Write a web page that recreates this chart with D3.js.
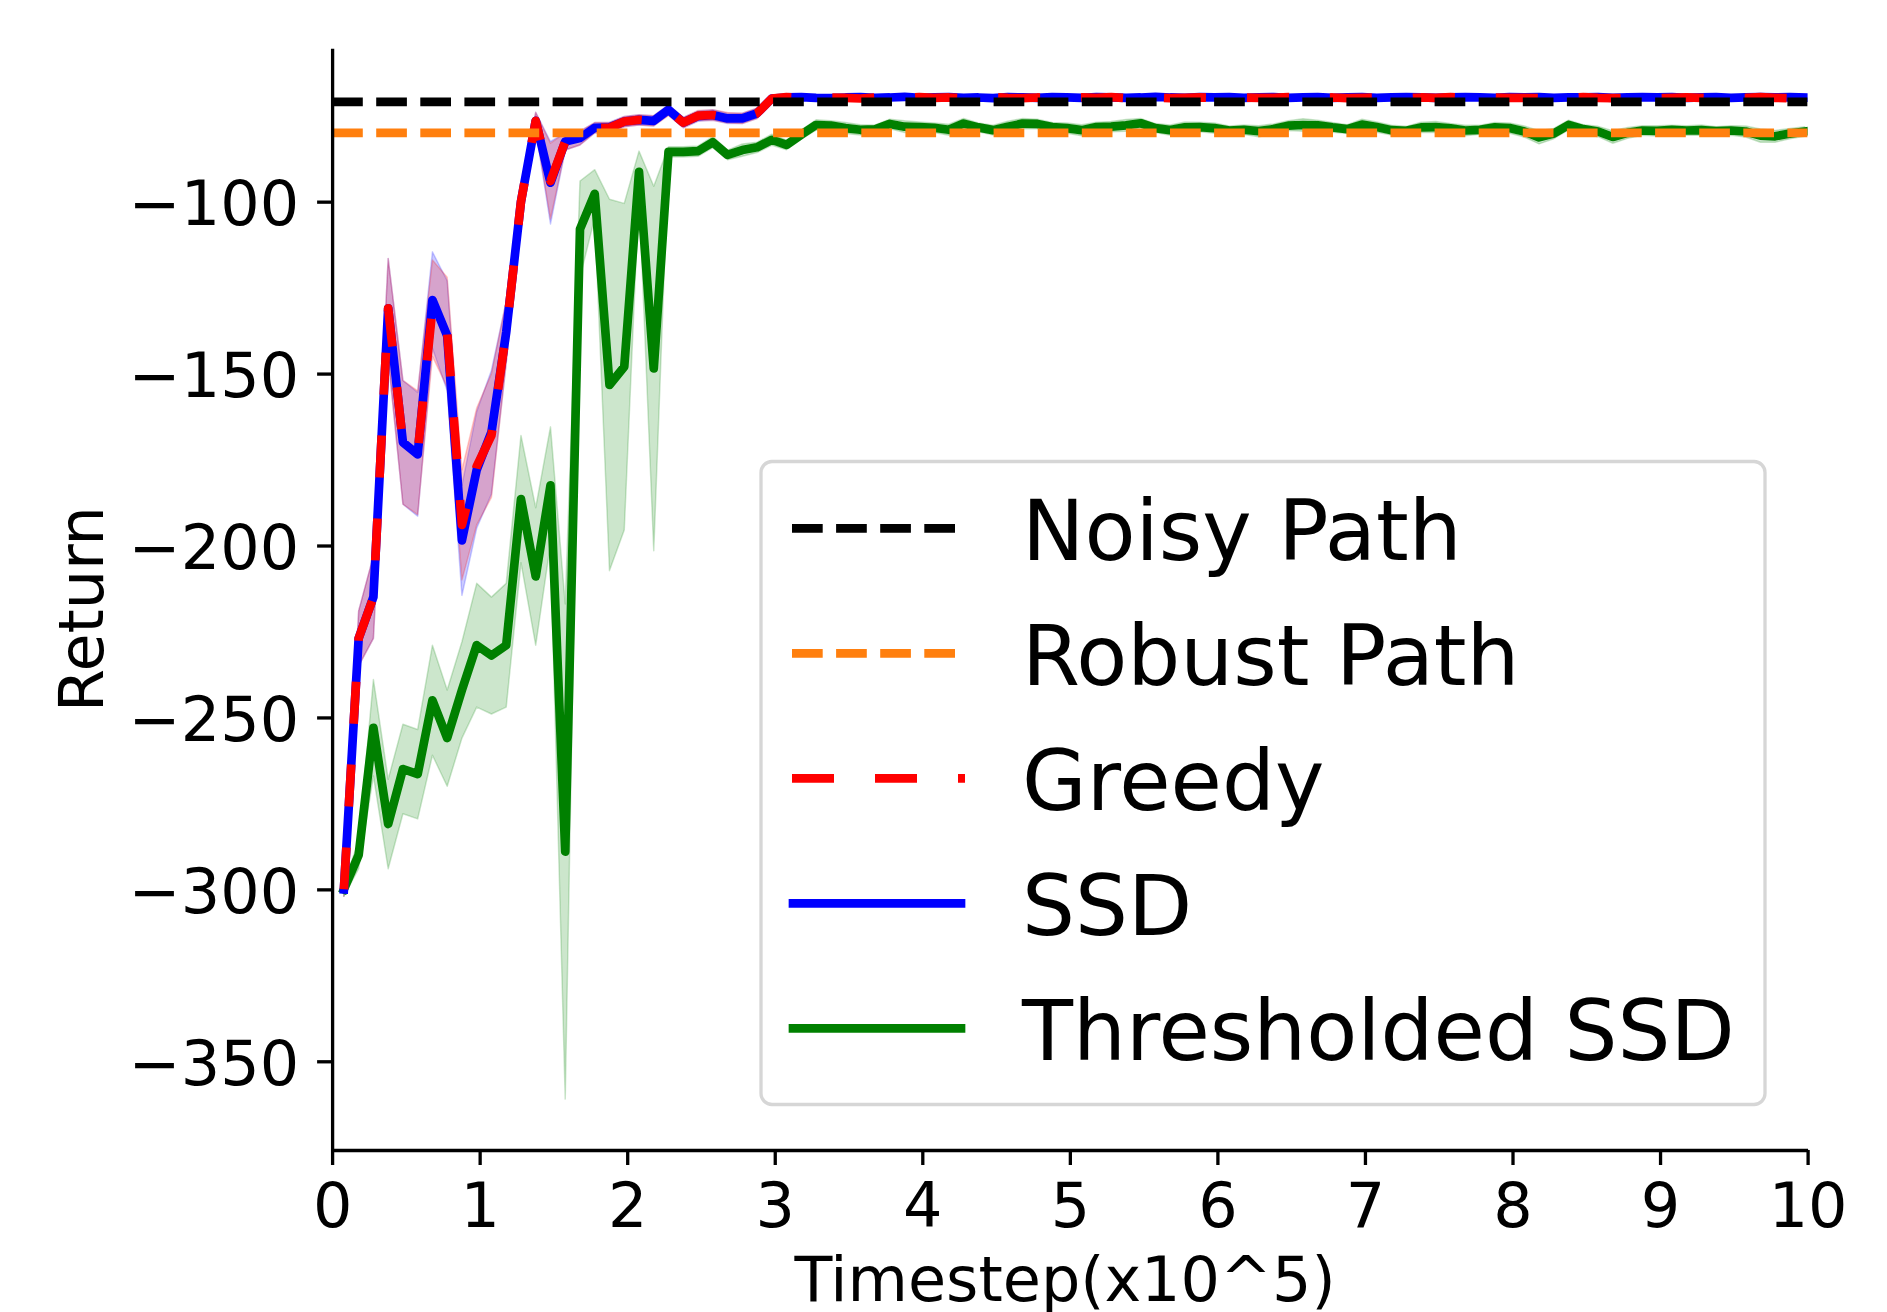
<!DOCTYPE html>
<html><head><meta charset="utf-8">
<script src="https://cdn.jsdelivr.net/npm/d3@7"></script>
<style>
body{margin:0;background:#fff}
svg{display:block}
text{font-family:"DejaVu Sans",sans-serif;fill:#000}
</style>
</head><body>
<svg id="chart" width="1887" height="1312"></svg>
<script>
// ---------------- data ----------------
const timesteps = [
 0.08,0.18,0.28,0.38,0.48,0.58,0.68,0.78,0.88,0.98,
 1.08,1.18,1.28,1.38,1.48,1.58,1.68,1.78,1.88,1.98,
 2.08,2.18,2.28,2.38,2.48,2.58,2.68,2.78,2.88,2.98,
 3.08,3.18,3.28,3.38,3.48,3.58,3.68,3.78,3.88,3.98,
 4.08,4.18,4.28,4.38,4.48,4.58,4.68,4.78,4.88,4.98,
 5.08,5.18,5.28,5.38,5.48,5.58,5.68,5.78,5.88,5.98,
 6.08,6.18,6.28,6.38,6.48,6.58,6.68,6.78,6.88,6.98,
 7.08,7.18,7.28,7.38,7.48,7.58,7.68,7.78,7.88,7.98,
 8.08,8.18,8.28,8.38,8.48,8.58,8.68,8.78,8.88,8.98,
 9.08,9.18,9.28,9.38,9.48,9.58,9.68,9.78,9.88,9.98];

const noisyPath = -71;
const robustPath = -80;

const greedyMean = [
 -300,-227,-215,-131,-170,-173,-131,-138,-194,-177,
 -168,-138,-100,-76.5,-94,-82.5,-81.5,-78.5,-78.5,-76.7,
 -76.2,-76.5,-73.5,-77,-75,-74.8,-75.6,-75.8,-74.3,-70,
 -69.6,-69.8,-69.9,-69.7,-69.8,-70,-69.7,-69.8,-69.9,-69.6,
 -69.8,-69.7,-69.9,-69.8,-69.6,-69.8,-69.9,-69.7,-69.8,-69.9,
 -69.7,-69.8,-69.6,-69.9,-69.8,-69.7,-69.9,-69.8,-69.7,-69.8,
 -69.9,-69.7,-69.8,-69.8,-69.6,-69.9,-69.8,-69.7,-69.9,-69.8,
 -69.7,-69.8,-69.9,-69.7,-69.8,-69.6,-69.8,-69.9,-69.7,-69.8,
 -69.8,-69.9,-69.7,-69.8,-69.6,-69.8,-69.9,-69.8,-69.7,-69.9,
 -69.8,-69.7,-69.8,-69.9,-69.7,-69.8,-69.6,-69.8,-69.9,-69.8];
const greedyStd = [
 2,8,12,14.5,18,18,14,16,16,17,
 18,9,5,2.5,11,2.5,2,1.5,1.5,1.5,
 1.5,1.5,1.5,1.5,1.5,1.5,1.5,1.5,1.5,0.8,
 0.6,0.6,0.6,0.6,0.6,0.6,0.6,0.6,0.6,0.6,
 0.6,0.6,0.6,0.6,0.6,0.6,0.6,0.6,0.6,0.6,
 0.6,0.6,0.6,0.6,0.6,0.6,0.6,0.6,0.6,0.6,
 0.6,0.6,0.6,0.6,0.6,0.6,0.6,0.6,0.6,0.6,
 0.6,0.6,0.6,0.6,0.6,0.6,0.6,0.6,0.6,0.6,
 0.6,0.6,0.6,0.6,0.6,0.6,0.6,0.6,0.6,0.6,
 0.6,0.6,0.6,0.6,0.6,0.6,0.6,0.6,0.6,0.6];

const ssdMean = [
 -300,-227,-215,-131,-170,-173.5,-128.6,-139,-198.5,-178,
 -167,-138,-100,-76.5,-94.5,-82.5,-81.5,-78.5,-78.4,-76.7,
 -76.2,-76.5,-73.3,-77,-75.1,-74.8,-75.8,-75.8,-74.3,-70,
 -69.7,-69.6,-69.8,-69.9,-69.7,-69.6,-69.8,-69.7,-69.5,-69.8,
 -69.7,-69.6,-69.8,-69.7,-69.9,-69.6,-69.7,-69.8,-69.6,-69.7,
 -69.8,-69.6,-69.7,-69.8,-69.7,-69.5,-69.7,-69.8,-69.6,-69.7,
 -69.6,-69.8,-69.7,-69.6,-69.8,-69.7,-69.6,-69.8,-69.7,-69.6,
 -69.8,-69.7,-69.6,-69.7,-69.8,-69.7,-69.6,-69.7,-69.8,-69.6,
 -69.7,-69.6,-69.8,-69.7,-69.7,-69.6,-69.8,-69.7,-69.6,-69.7,
 -69.6,-69.8,-69.7,-69.6,-69.8,-69.7,-69.6,-69.7,-69.6,-69.7];
const ssdStd = [
 2,8,12,14.5,18,18,14,16,16,17,
 18,9,5,2.5,12,2.5,2,1.5,1.5,1.5,
 1.5,1.5,1.5,1.5,1.5,1.5,1.5,1.5,1.5,0.8,
 0.6,0.6,0.6,0.6,0.6,0.6,0.6,0.6,0.6,0.6,
 0.6,0.6,0.6,0.6,0.6,0.6,0.6,0.6,0.6,0.6,
 0.6,0.6,0.6,0.6,0.6,0.6,0.6,0.6,0.6,0.6,
 0.6,0.6,0.6,0.6,0.6,0.6,0.6,0.6,0.6,0.6,
 0.6,0.6,0.6,0.6,0.6,0.6,0.6,0.6,0.6,0.6,
 0.6,0.6,0.6,0.6,0.6,0.6,0.6,0.6,0.6,0.6,
 0.6,0.6,0.6,0.6,0.6,0.6,0.6,0.6,0.6,0.6];

const thresholdedMean = [
 -300,-290,-253,-281,-265,-266.5,-245,-256,-242,-229,
 -232,-229,-186.5,-209,-182.5,-289,-108,-97.7,-153.3,-148,
 -91.3,-148.5,-85.5,-85.5,-85.3,-82.7,-86.4,-85,-84.2,-82,
 -83.5,-80.5,-77.7,-77.9,-78.6,-79.1,-79,-77.4,-78.2,-78.3,
 -78.5,-79.1,-77.3,-78.4,-79.2,-78.2,-77.3,-77.4,-78.3,-78.6,
 -79.2,-78.3,-78.2,-77.8,-77.2,-78.6,-79.2,-78.4,-78.3,-78.6,
 -79.3,-79.1,-79.5,-78.9,-77.9,-77.7,-77.8,-78.4,-78.9,-77.6,
 -78.3,-79.2,-79.4,-78.4,-78.3,-78.7,-79.3,-79.1,-78.4,-78.6,
 -79.6,-81.3,-80.2,-77.7,-78.9,-79.6,-81.2,-80,-79.3,-79.4,
 -79.1,-79.3,-79.2,-79.5,-79.3,-79.6,-80.8,-81,-80.2,-79.6];
const thresholdedStd = [
 2,4,14,13,13,13,16,14,14,18,
 17,18,18.5,20,17,72,14,7,54,47.5,
 6,53,1.5,1.5,1.5,1.6,1.4,1.8,1.5,1.6,
 1.4,1.3,1.5,1.4,1.6,1.5,1.3,1.4,1.7,1.5,
 1.4,1.6,1.5,1.3,1.4,1.6,1.5,1.4,1.3,1.5,
 1.6,1.4,1.5,1.7,1.4,1.3,1.5,1.6,1.4,1.5,
 1.3,1.4,1.6,1.5,1.4,1.8,1.5,1.4,1.3,1.6,
 1.5,1.4,1.3,1.5,1.6,1.4,1.5,1.3,1.4,1.5,
 1.6,1.9,1.5,1.4,1.3,1.5,1.8,1.6,1.4,1.5,
 1.3,1.4,1.5,1.3,1.4,1.6,1.9,1.7,1.5,1.4];

const xTicks = [0,1,2,3,4,5,6,7,8,9,10];
const yTicks = [-350,-300,-250,-200,-150,-100];
const legendLabels = ["Noisy Path","Robust Path","Greedy","SSD","Thresholded SSD"];
const xTitle = "Timestep(x10^5)";
const yTitle = "Return";

// ---------------- drawing ----------------
const svg = d3.select("#chart");
const X0 = 332.1, X1 = 1807.6, Y0 = 1150, Y1 = 48.3;
const x = d3.scaleLinear().domain([0,10]).range([X0,X1]);
const y = d3.scaleLinear().domain([-375.8,-55.4]).range([Y0,Y1]);

const LW = 8.7;
const C = {black:"#000000", orange:"#ff7f0e", red:"#ff0000", blue:"#0000ff", green:"#008000"};

svg.append("defs").append("clipPath").attr("id","clip")
  .append("rect").attr("x",X0).attr("y",Y1).attr("width",X1-X0).attr("height",Y0-Y1);
const plot = svg.append("g").attr("clip-path","url(#clip)");

function band(mean,std,color){
  const a = d3.area()
    .x((d,i)=>x(timesteps[i]))
    .y0((d,i)=>y(mean[i]-std[i]))
    .y1((d,i)=>y(mean[i]+std[i]));
  plot.append("path").datum(mean).attr("d",a)
    .attr("fill",color).attr("fill-opacity",0.2)
    .attr("stroke",color).attr("stroke-opacity",0.2).attr("stroke-width",1.5)
    .attr("stroke-linejoin","round");
}
const line = d3.line().x((d,i)=>x(timesteps[i])).y(d=>y(d));
function series(mean,color,dash){
  const p = plot.append("path").datum(mean).attr("d",line)
    .attr("fill","none").attr("stroke",color).attr("stroke-width",LW)
    .attr("stroke-linejoin","round");
  if(dash) p.attr("stroke-dasharray",dash).attr("stroke-linecap","butt");
  else p.attr("stroke-linecap","square");
}

band(ssdMean,ssdStd,C.blue);
band(greedyMean,greedyStd,C.red);
band(thresholdedMean,thresholdedStd,C.green);
series(thresholdedMean,C.green,null);
series(ssdMean,C.blue,null);
series(greedyMean,C.red,"42 41");

function hline(v,color){
  plot.append("line").attr("x1",x(0)).attr("x2",x(10)).attr("y1",y(v)).attr("y2",y(v))
    .attr("stroke",color).attr("stroke-width",LW).attr("stroke-dasharray","30.7 13.4");
}
hline(noisyPath,C.black);
hline(robustPath,C.orange);

// axes
const FS = 62;
const gx = svg.append("g").attr("transform",`translate(0,${Y0})`)
  .call(d3.axisBottom(x).tickValues(xTicks).tickFormat(d3.format("d")).tickSize(15).tickSizeOuter(0));
const gy = svg.append("g").attr("transform",`translate(${X0},0)`)
  .call(d3.axisLeft(y).tickValues(yTicks).tickFormat(d3.format("d")).tickSize(15).tickSizeOuter(0));
[gx,gy].forEach(g=>{
  g.attr("font-size",null);
  g.select(".domain").attr("stroke","#000").attr("stroke-width",3.3);
  g.selectAll(".tick line").attr("stroke","#000").attr("stroke-width",3.3);
  g.selectAll("text").attr("font-family",'"DejaVu Sans",sans-serif').attr("font-size",FS).attr("fill","#000");
});
gx.selectAll(".tick text").attr("y",76.7).attr("dy",0);
gy.selectAll(".tick text").attr("x",-33).attr("dy","0.376em");

svg.append("text").attr("x",1065).attr("y",1301).attr("text-anchor","middle")
  .attr("font-size",FS).text(xTitle);
svg.append("text").attr("transform","translate(103.3,609) rotate(-90)")
  .attr("text-anchor","middle").attr("font-size",FS).text(yTitle);

// legend
const lg = svg.append("g");
lg.append("rect").attr("x",761).attr("y",461.5).attr("width",1004).attr("height",643)
  .attr("rx",11).attr("fill","#fff").attr("fill-opacity",0.8)
  .attr("stroke","#cccccc").attr("stroke-opacity",0.8).attr("stroke-width",3.3);
const legendStyles = [
  {color:C.black, dash:"30.7 13.4"},
  {color:C.orange, dash:"30.7 13.4"},
  {color:C.red, dash:"42 41"},
  {color:C.blue, dash:null},
  {color:C.green, dash:null}
];
legendLabels.forEach((lab,i)=>{
  const cy = 528.3 + i*125;
  const st = legendStyles[i];
  const l = lg.append("line").attr("y1",cy).attr("y2",cy)
    .attr("stroke",st.color).attr("stroke-width",LW);
  if(st.dash) l.attr("x1",792).attr("x2",965).attr("stroke-dasharray",st.dash).attr("stroke-linecap","butt");
  else l.attr("x1",793).attr("x2",961).attr("stroke-linecap","square");
  lg.append("text").attr("x",1022).attr("y",cy+31.7).attr("font-size",83.5).text(lab);
});
</script>
</body></html>
